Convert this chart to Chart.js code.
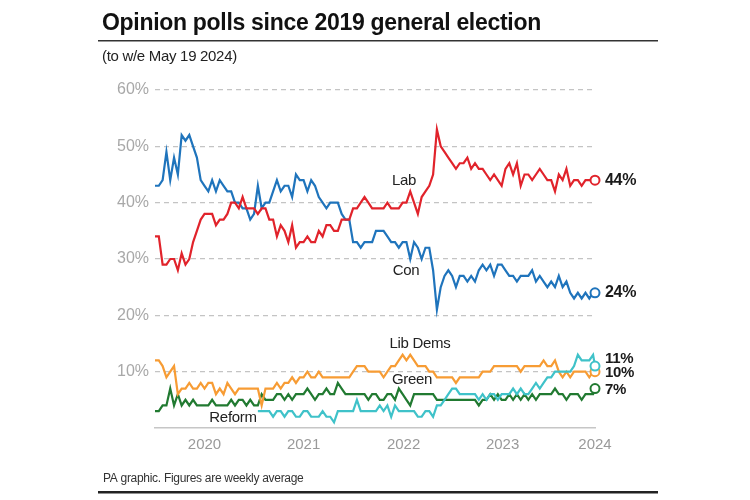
<!DOCTYPE html>
<html>
<head>
<meta charset="utf-8">
<title>Opinion polls since 2019 general election</title>
<script src="https://cdn.jsdelivr.net/npm/chart.js@4.4.1/dist/chart.umd.min.js"></script>
<style>
  html, body { margin: 0; padding: 0; background: #fff; }
  #wrap { width: 750px; height: 500px; }
</style>
</head>
<body>
<div id="wrap"><canvas id="pollChart" width="750" height="500"></canvas></div>
<script>
// weekly poll averages, sampled every 2 weeks from w/e 15 Dec 2019 to w/e 19 May 2024
var labValues = [
    34, 34, 29, 29, 30, 30, 28, 31, 29, 30,
    33, 35, 37, 38, 38, 38, 36, 37, 37, 38,
    40, 40, 39, 41, 39, 39, 39, 38, 39, 39,
    37, 37, 34, 36, 35, 33, 36, 32, 33, 33,
    34, 33, 33, 35, 34, 36, 36, 35, 35, 37,
    37, 37, 39, 39, 40, 41, 40, 39, 39, 39,
    39, 40, 39, 39, 39, 40, 40, 42, 40, 38,
    41, 42, 43, 45, 53, 50, 49, 48, 47, 46,
    47, 47, 48, 46, 47, 46, 46, 45, 44, 45,
    44, 43, 46, 47, 45, 47, 43, 45, 45, 44,
    45, 46, 45, 44, 44, 42, 45, 44, 46, 43,
    44, 44, 43, 44, 44, 44,
    44
];
var conValues = [
    43, 43, 44, 49, 44, 48, 45, 52, 51, 52,
    50, 48, 44, 43, 42, 44, 42, 44, 43, 42,
    42, 40, 40, 39, 39, 37, 38, 43, 39, 40,
    40, 42, 44, 42, 43, 43, 41, 45, 44, 44,
    42, 44, 43, 41, 40, 39, 40, 40, 40, 38,
    37, 37, 33, 33, 32, 33, 33, 33, 35, 35,
    35, 34, 33, 33, 32, 33, 33, 30, 33, 32,
    30, 32, 32, 28, 21, 25, 27, 28, 27, 25,
    27, 27, 26, 27, 26, 28, 29, 28, 29, 27,
    29, 29, 28, 27, 27, 26, 27, 27, 27, 28,
    26, 27, 26, 25, 26, 25, 27, 25, 26, 24,
    23, 24, 23, 24, 23, 24,
    24
];
var libDemValues = [
    12, 12, 11, 9, 10, 11, 6, 7, 7, 8,
    7, 7, 8, 7, 8, 8, 6, 7, 6, 8,
    7, 6, 7, 7, 7, 7, 7, 7, 4, 7,
    7, 7, 8, 7, 8, 8, 9, 8, 9, 9,
    10, 9, 9, 10, 9, 9, 9, 9, 9, 9,
    9, 9, 10, 11, 11, 11, 10, 10, 10, 10,
    9, 10, 11, 11, 12, 13, 12, 13, 12, 11,
    11, 11, 10, 10, 9, 9, 9, 9, 9, 8,
    9, 9, 9, 9, 9, 9, 10, 10, 10, 11,
    11, 11, 11, 11, 11, 11, 10, 11, 11, 11,
    11, 11, 12, 11, 11, 12, 10, 9, 10, 9,
    10, 10, 10, 10, 9, 10,
    10
];
var greenValues = [
    3, 3, 4, 4, 7, 4, 6, 4, 5, 4,
    5, 4, 4, 4, 4, 5, 4, 4, 4, 4,
    5, 4, 5, 5, 4, 5, 4, 4, 6, 5,
    5, 5, 6, 6, 5, 6, 5, 6, 6, 6,
    7, 6, 5, 6, 6, 7, 6, 6, 8, 7,
    6, 6, 6, 6, 6, 6, 5, 6, 6, 5,
    5, 6, 6, 5, 7, 6, 5, 4, 6, 6,
    6, 6, 6, 6, 5, 5, 5, 5, 5, 5,
    5, 5, 5, 5, 5, 4, 5, 5, 6, 5,
    6, 5, 5, 6, 5, 6, 5, 6, 5, 6,
    5, 6, 6, 6, 6, 7, 6, 6, 5, 6,
    6, 6, 5, 6, 6, 6,
    7
];
var reformValues = [
    null, null, null, null, null, null, null, null, null, null,
    null, null, null, null, null, null, null, null, null, null,
    null, null, null, null, null, null, null, 3, 3, 3,
    3, 2, 3, 3, 2, 3, 3, 2, 2, 3,
    3, 2, 2, 2, 3, 2, 2, 1, 3, 3,
    3, 3, 3, 5, 3, 3, 3, 3, 3, 4,
    3, 4, 2, 4, 3, 3, 3, 3, 3, 2,
    2, 3, 3, 2, 4, 4, 5, 6, 7, 7,
    6, 6, 6, 6, 6, 5, 6, 5, 6, 6,
    5, 6, 6, 6, 7, 6, 7, 6, 6, 7,
    8, 7, 8, 9, 9, 10, 10, 10, 10, 10,
    11, 13, 12, 12, 12, 13,
    11
];

// x axis: weeks since w/e 15 Dec 2019
var weekIndex = labValues.map(function (_, i) { return Math.min(i * 2, 231); });
var yearTickWeeks = [26, 78, 130.5, 182.5, 231];
var yearLabels = ['2020', '2021', '2022', '2023', '2024'];
var yTicks = [0, 10, 20, 30, 40, 50, 60];

var titleText = 'Opinion polls since 2019 general election';
var subtitleText = '(to w/e May 19 2024)';
var footerText = 'PA graphic. Figures are weekly average';

function toPoints(vals) {
    return vals.map(function (v, i) { return { x: weekIndex[i], y: v }; });
}

function lastOnly(n) {
    return function (c) { return c.dataIndex === n - 1 ? 4.5 : 0; };
}

function series(label, vals, color, endShift) {
    return {
        label: label,
        data: toPoints(vals),
        borderColor: color,
        borderWidth: 2.2,
        pointRadius: lastOnly(vals.length),
        pointHoverRadius: 0,
        pointBackgroundColor: '#fff',
        pointBorderColor: color,
        pointBorderWidth: 2,
        tension: 0,
        spanGaps: false,
        clip: false,
        endShift: endShift
    };
}

Chart.defaults.font.family = '"Liberation Sans", Arial, sans-serif';

var overlay = {
    id: 'overlay',
    afterDraw: function (chart) {
        var ctx = chart.ctx;
        var ys = chart.scales.y;
        var area = chart.chartArea;
        ctx.save();
        ctx.textAlign = 'left';
        ctx.textBaseline = 'alphabetic';

        // heading
        ctx.letterSpacing = '-0.3px';
        ctx.fillStyle = '#111';
        ctx.font = 'bold 23px "Liberation Sans"';
        ctx.fillText(titleText, 102, 30);
        ctx.fillStyle = '#333';
        ctx.fillRect(98, 40, 560, 1.5);
        ctx.fillStyle = '#222';
        ctx.font = '15px "Liberation Sans"';
        ctx.fillText(subtitleText, 102, 61);

        // footer
        ctx.font = '12px "Liberation Sans"';
        ctx.fillStyle = '#333';
        ctx.fillText(footerText, 103, 482);
        ctx.fillStyle = '#222';
        ctx.fillRect(98, 491, 560, 2.5);

        // party names
        ctx.textAlign = 'center';
        ctx.textBaseline = 'middle';
        ctx.fillStyle = '#222';
        ctx.font = '15px "Liberation Sans"';
        ctx.fillText('Lab', 404, 181);
        ctx.fillText('Con', 406, 271);
        ctx.fillText('Lib Dems', 420, 344);
        ctx.fillText('Green', 412, 380);
        ctx.fillText('Reform', 233, 418);

        // latest values
        ctx.textAlign = 'left';
        ctx.fillStyle = '#1a1a1a';
        chart.data.datasets.forEach(function (ds) {
            var last = ds.data[ds.data.length - 1].y;
            var y = ys.getPixelForValue(last) + ds.endShift;
            ctx.font = (last >= 20 ? '600 16px' : 'bold 15px') + ' "Liberation Sans"';
            ctx.fillText(last + '%', area.right + 10, y);
        });
        ctx.restore();
    }
};

var ctxPoll = document.getElementById('pollChart').getContext('2d');
var pollChart = new Chart(ctxPoll, {
    type: 'line',
    data: {
        datasets: [
            series('Lab', labValues, '#e1232b', 0),
            series('Con', conValues, '#1f74bc', 0),
            series('Reform', reformValues, '#3fc2c9', -7),
            series('Lib Dems', libDemValues, '#f79c34', 1.5),
            series('Green', greenValues, '#217a31', 1.5)
        ]
    },
    options: {
        responsive: false,
        animation: false,
        events: [],
        layout: { padding: { left: 95, right: 155, top: 90, bottom: 42 } },
        plugins: {
            legend: { display: false },
            tooltip: { enabled: false }
        },
        scales: {
            x: {
                type: 'linear',
                min: 0,
                max: 231,
                afterBuildTicks: function (scale) {
                    scale.ticks = yearTickWeeks.map(function (w) { return { value: w }; });
                },
                afterFit: function (scale) { scale.height = 30; },
                grid: { display: false, drawTicks: false },
                border: { display: true, color: '#c6c6c6', width: 1.5 },
                ticks: {
                    autoSkip: false,
                    maxRotation: 0,
                    padding: 8,
                    color: '#9a9a9a',
                    font: { size: 15 },
                    callback: function (value) {
                        var k = yearTickWeeks.indexOf(value);
                        return k >= 0 ? yearLabels[k] : '';
                    }
                }
            },
            y: {
                min: 0,
                max: 60,
                afterBuildTicks: function (scale) {
                    scale.ticks = yTicks.map(function (v) { return { value: v }; });
                },
                afterFit: function (scale) { scale.width = 60; },
                border: { display: false, dash: [5, 4] },
                grid: {
                    color: function (c) { return c.tick && c.tick.value === 0 ? 'rgba(0,0,0,0)' : '#c4c4c4'; },
                    lineWidth: 1.2,
                    drawTicks: false
                },
                ticks: {
                    padding: 6,
                    color: '#a8a8a8',
                    font: { size: 16 },
                    callback: function (v) { return v === 0 ? '' : v + '%'; }
                }
            }
        }
    },
    plugins: [overlay]
});
</script>
</body>
</html>
